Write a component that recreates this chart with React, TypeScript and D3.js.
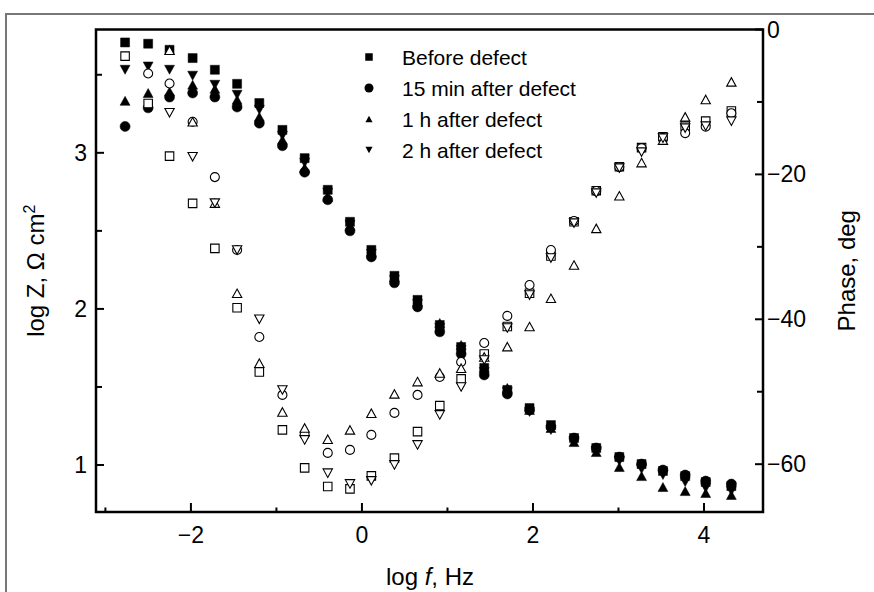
import React from 'react';
import * as d3 from 'd3';

const logF = [-2.77, -2.5, -2.25, -1.98, -1.72, -1.46, -1.2, -0.93, -0.67, -0.4, -0.14, 0.11, 0.38, 0.65, 0.91, 1.16, 1.43, 1.7, 1.96, 2.21, 2.48, 2.74, 3.01, 3.27, 3.52, 3.78, 4.02, 4.32];

const zBefore = [3.707, 3.699, 3.66, 3.607, 3.532, 3.442, 3.319, 3.147, 2.966, 2.763, 2.558, 2.378, 2.212, 2.058, 1.897, 1.756, 1.622, 1.481, 1.365, 1.256, 1.173, 1.109, 1.051, 1.006, 0.962, 0.929, 0.891, 0.865];
const z15min = [3.169, 3.288, 3.357, 3.383, 3.357, 3.293, 3.19, 3.045, 2.876, 2.699, 2.5, 2.333, 2.167, 2.013, 1.853, 1.712, 1.577, 1.455, 1.353, 1.244, 1.173, 1.109, 1.051, 1.006, 0.968, 0.936, 0.897, 0.878];
const z1h = [3.333, 3.383, 3.393, 3.436, 3.41, 3.34, 3.231, 3.083, 2.904, 2.718, 2.532, 2.365, 2.205, 2.045, 1.91, 1.769, 1.622, 1.494, 1.353, 1.237, 1.147, 1.083, 0.987, 0.929, 0.859, 0.833, 0.821, 0.808];
const z2h = [3.532, 3.553, 3.532, 3.494, 3.436, 3.372, 3.276, 3.109, 2.936, 2.744, 2.538, 2.353, 2.186, 2.032, 1.878, 1.737, 1.596, 1.468, 1.34, 1.224, 1.154, 1.09, 1.026, 0.974, 0.936, 0.891, 0.853, 0.833];

const phBefore = [-3.68, -10.21, -17.48, -24.0, -30.21, -38.4, -47.27, -55.27, -60.51, -63.09, -63.41, -61.61, -59.17, -55.5, -51.92, -48.23, -44.8, -41.0, -36.41, -31.27, -26.54, -22.26, -18.95, -16.3, -14.81, -13.34, -12.65, -11.24];
const ph15min = [null, -6.07, -7.45, -12.74, -20.37, -30.44, -42.44, -50.44, -55.96, -58.44, -58.03, -55.96, -52.92, -50.44, -47.96, -45.89, -43.27, -39.53, -35.26, -30.44, -26.44, -22.3, -18.99, -16.37, -14.99, -14.3, -13.43, -11.55];
const ph1h = [null, null, -2.86, -12.74, -23.96, -36.41, -46.06, -52.79, -55.0, -56.56, -55.27, -52.97, -50.3, -48.6, -47.41, -46.76, -45.2, -43.78, -41.0, -37.1, -32.51, -27.45, -22.95, -18.37, -15.27, -12.06, -9.66, -7.23];
const ph2h = [null, null, -11.5, -17.57, -23.96, -30.44, -40.0, -49.75, -56.65, -61.24, -62.72, -62.3, -60.1, -57.34, -53.2, -49.34, -45.61, -41.2, -36.65, -31.54, -26.72, -22.58, -19.13, -16.92, -15.0, -13.61, -13.34, -12.65];

const seriesNames = ['Before defect', '15 min after defect', '1 h after defect', '2 h after defect'];
const seriesShapes = ['square', 'circle', 'triUp', 'triDown'];
const zSeries = [zBefore, z15min, z1h, z2h];
const phSeries = [phBefore, ph15min, ph1h, ph2h];

const xTicksMajor = [-2, 0, 2, 4];
const xTicksMinor = [-3, -1, 1, 3];
const zTicksMajor = [1, 2, 3];
const zTicksMinor = [1.5, 2.5, 3.5];
const phTicksMajor = [0, -20, -40, -60];
const phTicksMinor = [-10, -30, -50];

const FONT = 'Liberation Sans, Arial, sans-serif';
const TICK_FS = 23;
const TITLE_FS = 24;

function markerPath(shape: string, s: number): string {
  const h = s / 2;
  if (shape === 'square') return `M${-h},${-h}H${h}V${h}H${-h}Z`;
  if (shape === 'circle') return `M${-h},0A${h},${h} 0 1,0 ${h},0A${h},${h} 0 1,0 ${-h},0Z`;
  if (shape === 'triUp') return `M0,${-h}L${h * 1.1},${h}L${-h * 1.1},${h}Z`;
  return `M0,${h}L${h * 1.1},${-h}L${-h * 1.1},${-h}Z`;
}

const filledSize: Record<string, number> = { square: 9, circle: 10, triUp: 9, triDown: 9 };
const openSize: Record<string, number> = { square: 8.5, circle: 9, triUp: 8.5, triDown: 8.5 };

export default function App() {
  const left = 96, right = 763, top = 29.5, bottom = 512;
  const x = d3.scaleLinear().domain([-3.11, 4.69]).range([left, right]);
  const yZ = d3.scaleLinear().domain([0.699, 3.79]).range([bottom, top]);
  const yP = d3.scaleLinear().domain([-66.6, 0]).range([bottom, top]);
  const fmt = d3.format('d');

  return (
    <svg width={874} height={592} style={{ position: 'absolute', left: 0, top: 0, background: '#fff' }}>
      <rect x={0} y={0} width={874} height={592} fill="#fff" />
      {/* outer frame */}
      <path d="M6,592V14H874" fill="none" stroke="#777" strokeWidth={2} />

      {/* filled Z markers */}
      {zSeries.map((ser, si) => (
        <g key={'z' + si}>
          {ser.map((v, i) => (
            <path key={i} d={markerPath(seriesShapes[si], filledSize[seriesShapes[si]])}
              transform={`translate(${x(logF[i])},${yZ(v)})`} fill="#000" stroke="#000" strokeWidth={0.5} />
          ))}
        </g>
      ))}
      {/* open phase markers */}
      {phSeries.map((ser, si) => (
        <g key={'p' + si}>
          {ser.map((v, i) => v == null ? null : (
            <path key={i} d={markerPath(seriesShapes[si], openSize[seriesShapes[si]])}
              transform={`translate(${x(logF[i])},${yP(v)})`} fill="#fff" stroke="#000" strokeWidth={1.1} />
          ))}
        </g>
      ))}

      {/* frame */}
      <rect x={left} y={top} width={right - left} height={bottom - top} fill="none" stroke="#000" strokeWidth={2.5} />

      {/* x ticks */}
      {xTicksMajor.map(t => (
        <g key={'xt' + t}>
          <line x1={x(t)} x2={x(t)} y1={bottom} y2={bottom - 9} stroke="#000" strokeWidth={2} />
          <text x={x(t)} y={543} textAnchor="middle" fontFamily={FONT} fontSize={TICK_FS}>{fmt(t)}</text>
        </g>
      ))}
      {xTicksMinor.map(t => (
        <line key={'xm' + t} x1={x(t)} x2={x(t)} y1={bottom} y2={bottom - 4.5} stroke="#000" strokeWidth={2} />
      ))}

      {/* left ticks */}
      {zTicksMajor.map(t => (
        <g key={'zt' + t}>
          <line x1={left} x2={left + 8} y1={yZ(t)} y2={yZ(t)} stroke="#000" strokeWidth={2} />
          <text x={87} y={yZ(t) + 8} textAnchor="end" fontFamily={FONT} fontSize={TICK_FS}>{fmt(t)}</text>
        </g>
      ))}
      {zTicksMinor.map(t => (
        <line key={'zm' + t} x1={left} x2={left + 6} y1={yZ(t)} y2={yZ(t)} stroke="#000" strokeWidth={2} />
      ))}

      {/* right ticks */}
      {phTicksMajor.map(t => (
        <g key={'pt' + t}>
          <line x1={right} x2={right - 8} y1={yP(t)} y2={yP(t)} stroke="#000" strokeWidth={2} />
          <text x={767} y={yP(t) + 8} textAnchor="start" fontFamily={FONT} fontSize={TICK_FS}>{fmt(t)}</text>
        </g>
      ))}
      {phTicksMinor.map(t => (
        <line key={'pm' + t} x1={right} x2={right - 6} y1={yP(t)} y2={yP(t)} stroke="#000" strokeWidth={2} />
      ))}

      {/* axis titles */}
      <text x={430} y={585} textAnchor="middle" fontFamily={FONT} fontSize={TITLE_FS}>
        log <tspan fontStyle="italic">f</tspan>, Hz
      </text>
      <text transform={`translate(44,${(top + bottom) / 2}) rotate(-90)`} textAnchor="middle" fontFamily={FONT} fontSize={TITLE_FS}>
        log Z, Ω cm<tspan dy={-9} fontSize={16}>2</tspan>
      </text>
      <text transform={`translate(855,${(top + bottom) / 2}) rotate(-90)`} textAnchor="middle" fontFamily={FONT} fontSize={TITLE_FS}>
        Phase, deg
      </text>

      {/* legend */}
      {seriesNames.map((name, i) => {
        const ly = 57 + i * 31;
        const ls: Record<string, number> = { square: 7.5, circle: 9, triUp: 6.5, triDown: 6.5 };
        return (
          <g key={'lg' + i}>
            <path d={markerPath(seriesShapes[i], ls[seriesShapes[i]])} transform={`translate(369,${ly})`} fill="#000" />
            <text x={402} y={ly + 7.5} fontFamily={FONT} fontSize={21}>{name}</text>
          </g>
        );
      })}
    </svg>
  );
}
